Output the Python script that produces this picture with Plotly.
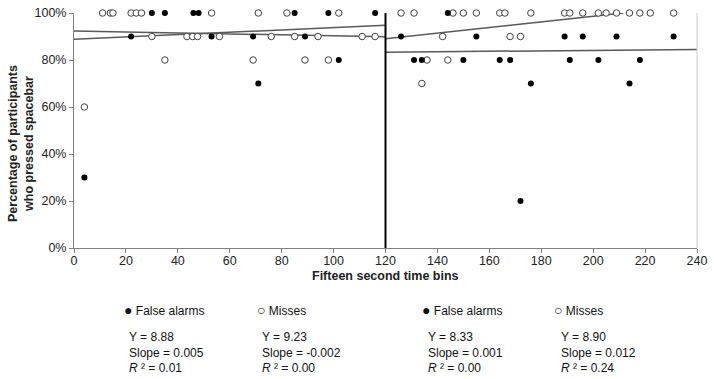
import plotly.graph_objects as go

# ---------------- data ----------------
# Phase 1 (bins 0-120)
p1_fa_x = [30, 35, 46, 48, 85, 98, 116, 22, 53, 69, 89, 102, 71, 4]
p1_fa_y = [100, 100, 100, 100, 100, 100, 100, 90, 90, 90, 90, 80, 70, 30]
p1_miss_x = [11, 14, 15, 22, 24, 26, 53, 71, 82, 102,
             30, 43.5, 45.7, 47.6, 56, 76, 85, 94, 111, 116,
             35, 69, 89, 98, 4]
p1_miss_y = [100, 100, 100, 100, 100, 100, 100, 100, 100, 100,
             90, 90, 90, 90, 90, 90, 90, 90, 90, 90,
             80, 80, 80, 80, 60]
# Phase 2 (bins 120-240)
p2_fa_x = [144, 126, 155, 189, 196, 209, 231,
           131, 134, 150, 164, 168, 191, 202, 218, 176, 214, 172]
p2_fa_y = [100, 90, 90, 90, 90, 90, 90,
           80, 80, 80, 80, 80, 80, 80, 80, 70, 70, 20]
p2_miss_x = [126, 131, 146, 150, 155, 164, 166, 176, 189, 191, 196, 202,
             205, 209, 214, 218, 222, 231, 142, 168, 172, 136, 144, 134]
p2_miss_y = [100, 100, 100, 100, 100, 100, 100, 100, 100, 100, 100, 100,
             100, 100, 100, 100, 100, 100, 90, 90, 90, 80, 80, 70]

# regression statistics: [phase1 FA, phase1 Misses, phase2 FA, phase2 Misses]
series_names = ["False alarms", "Misses", "False alarms", "Misses"]
intercepts = [8.88, 9.23, 8.33, 8.90]
slopes = [0.005, -0.002, 0.001, 0.012]
r_squared = [0.01, 0.00, 0.00, 0.24]
phase_starts = [0, 0, 120, 120]
phase_ends = [120, 120, 240, 240]
phase_boundary = 120

x_ticks = list(range(0, 241, 20))
y_ticks = [0, 20, 40, 60, 80, 100]
y_tick_labels = ["0%", "20%", "40%", "60%", "80%", "100%"]

# ---------------- figure ----------------
W, H = 714, 379
L, R, T, B = 74, 697, 13, 248


def px(xp):
    return (xp - L) / (R - L)


def py(yp):
    return (B - yp) / (B - T)


fig = go.Figure()

trend_color = "#595959"
for i in range(4):
    x0, x1 = phase_starts[i], phase_ends[i]
    y0 = intercepts[i] * 10
    y1 = y0 + slopes[i] * 10 * (x1 - x0)
    if y1 > 100:  # trendline clipped at the axis maximum
        x1 = x0 + (100 - y0) / (slopes[i] * 10)
        y1 = 100
    fig.add_trace(go.Scatter(x=[x0, x1], y=[y0, y1], mode="lines",
                             line=dict(color=trend_color, width=1.5),
                             showlegend=False, hoverinfo="skip"))

filled = dict(symbol="circle", size=6, color="black",
              line=dict(color="black", width=0))
hollow = dict(symbol="circle", size=6.5, color="white",
              line=dict(color="#404040", width=1))

for xs, ys, mk in [(p1_miss_x, p1_miss_y, hollow), (p1_fa_x, p1_fa_y, filled),
                   (p2_miss_x, p2_miss_y, hollow), (p2_fa_x, p2_fa_y, filled)]:
    fig.add_trace(go.Scatter(x=xs, y=ys, mode="markers", marker=mk,
                             cliponaxis=False, showlegend=False))

# phase divider
fig.add_shape(type="line", x0=phase_boundary, x1=phase_boundary, y0=0, y1=100,
              xref="x", yref="y", line=dict(color="black", width=2))
# right border
fig.add_shape(type="line", x0=1, x1=1, y0=0, y1=1, xref="paper", yref="paper",
              line=dict(color="#cccccc", width=1))

font_family = "Liberation Sans, Arial, sans-serif"
tick_font = dict(family=font_family, size=12.5, color="#222222")

fig.update_xaxes(range=[0, 240], tickvals=x_ticks, ticks="outside", ticklen=4,
                 tickcolor="#808080", showline=True, linecolor="#808080",
                 linewidth=1, showgrid=False, zeroline=False,
                 tickfont=tick_font, automargin=False, ticklabelstandoff=-3)
fig.update_yaxes(range=[0, 100], tickvals=y_ticks, ticktext=y_tick_labels,
                 ticks="outside", ticklen=4, tickcolor="#808080",
                 showline=True, linecolor="#808080", linewidth=1,
                 showgrid=False, zeroline=False, tickfont=tick_font,
                 automargin=False)

ann = []
ann.append(dict(text="<b>Fifteen second time bins</b>", x=0.5, y=py(276),
                xref="paper", yref="paper", showarrow=False,
                font=dict(family=font_family, size=12.5, color="#222222"),
                xanchor="center", yanchor="middle"))
ann.append(dict(text="<b>Percentage of participants<br>who pressed spacebar</b>",
                x=px(21), y=py(144), xref="paper", yref="paper",
                showarrow=False, textangle=-90,
                font=dict(family=font_family, size=12.5, color="#222222"),
                xanchor="center", yanchor="middle"))

bullet_x = [122, 255, 420, 552]
block_x = [127, 260, 426, 559]
bullets = ["●", "○", "●", "○"]
lfont = dict(family=font_family, size=12, color="#111111")
for i in range(4):
    ann.append(dict(text=f"<span style='font-size:14px'>{bullets[i]}</span> {series_names[i]}",
                    x=px(bullet_x[i]),
                    y=py(310), xref="paper", yref="paper", showarrow=False,
                    xanchor="left", yanchor="middle", font=lfont))
    block = (f"Y = {intercepts[i]:.2f}<br>Slope = {slopes[i]:.3f}"
             f"<br><i>R</i> ² = {r_squared[i]:.2f}")
    ann.append(dict(text=block, x=px(block_x[i]), y=py(352), xref="paper",
                    yref="paper", showarrow=False, xanchor="left",
                    yanchor="middle", align="left", font=lfont))

fig.update_layout(width=W, height=H,
                  margin=dict(l=L, r=W - R, t=T, b=H - B, autoexpand=False),
                  plot_bgcolor="white", paper_bgcolor="white",
                  annotations=ann, showlegend=False,
                  font=dict(family=font_family))

fig.write_html("out.html", config={"displayModeBar": False},
               post_script="document.body.style.margin='0';document.body.style.overflow='hidden';")
